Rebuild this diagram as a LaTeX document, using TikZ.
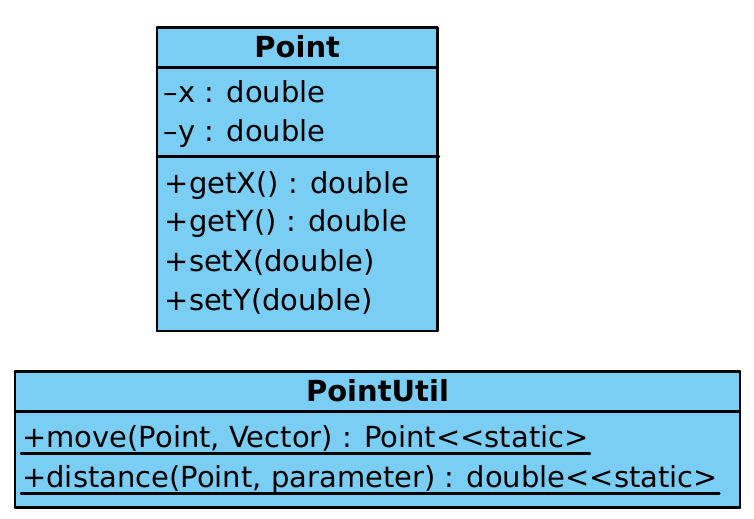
\documentclass[tikz,border=0pt]{standalone}
\usepackage{fontspec}
\setmainfont{DejaVu Sans}
\definecolor{classblue}{RGB}{122,206,244}

\begin{document}
\begin{tikzpicture}[scale=1, line cap=round, line width=1.4pt,
  member/.style={anchor=base west, inner sep=0pt, font=\fontsize{16.5}{20}\selectfont},
  classname/.style={anchor=base, inner sep=0pt, font=\fontsize{16.5}{20}\selectfont\bfseries}]

\useasboundingbox (0, 0) rectangle (15.08, 10.36);

% Point
\fill[classblue] (3.14, 3.74) rectangle (8.75, 9.81);
\draw (3.14, 9.81) -- (8.75, 9.81);
\draw (8.75, 9.81) -- (8.75, 3.74);
\draw (8.75, 3.74) -- (3.14, 3.74);
\draw (3.14, 3.74) -- (3.14, 9.81);
\draw (3.14, 9.01) -- (8.75, 9.01);
\draw (3.14, 7.23) -- (8.78, 7.23);

\node (pointName) [classname] at (5.945, 9.21) {Point};
\node (attrX) [member] at (3.25, 8.30) {--x : double};
\node (attrY) [member] at (3.25, 7.53) {--y : double};
\node (getX) [member] at (3.27, 6.49) {+getX() : double};
\node (getY) [member] at (3.27, 5.73) {+getY() : double};
\node (setX) [member] at (3.27, 4.93) {+setX(double)};
\node (setY) [member] at (3.27, 4.15) {+setY(double)};

% PointUtil
\fill[classblue] (0.30, 0.21) rectangle (14.80, 2.93);
\draw (0.30, 2.93) -- (14.80, 2.93);
\draw (14.80, 2.93) -- (14.80, 0.21);
\draw (14.80, 0.21) -- (0.30, 0.21);
\draw (0.30, 0.21) -- (0.30, 2.93);
\draw (0.30, 2.13) -- (14.80, 2.13);

\node (utilName) [classname] at (7.55, 2.33) {PointUtil};
\node (move) [member] at (0.42, 1.41) {+move(Point, Vector) : Point<{}<static>};
\node (distance) [member] at (0.42, 0.61) {+distance(Point, parameter) : double<{}<static>};
\draw ([yshift=-0.12cm] move.base west) -- ([yshift=-0.12cm] move.base east);
\draw ([yshift=-0.12cm] distance.base west) -- ([yshift=-0.12cm] distance.base east);
\end{tikzpicture}
\end{document}
